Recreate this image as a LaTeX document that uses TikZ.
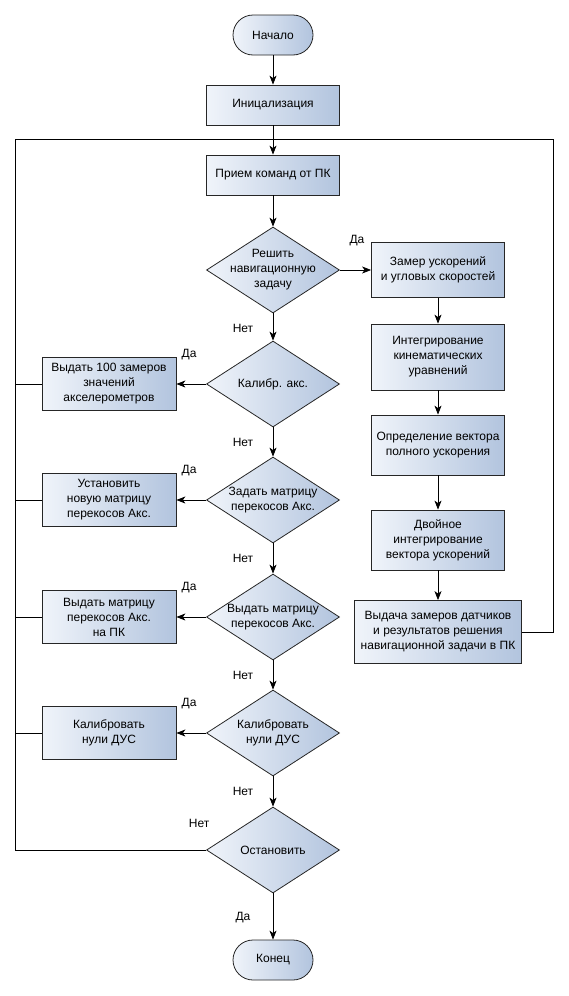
\documentclass[tikz,border=0pt]{standalone}
\usepackage{fontspec}
\setmainfont{Liberation Sans}
\usetikzlibrary{arrows.meta}
\usetikzlibrary{shapes.geometric}
\usetikzlibrary{calc}
\usepackage{xcolor}

\definecolor{boxl}{RGB}{240,244,250}
\definecolor{boxr}{RGB}{178,196,222}

\tikzset{
  txt/.style={font=\fontsize{12}{15}\selectfont},
  base/.style={txt, draw=black!85, line width=0.8pt, left color=boxl, right color=boxr, align=center},
  term/.style={base, rectangle, rounded corners=20pt, minimum width=80pt, minimum height=40pt},
  proc/.style={base, rectangle, minimum width=133pt, inner sep=0pt},
  decision/.style={base, diamond, minimum width=133pt, minimum height=86pt, inner sep=0pt},
  dtext/.style={txt, align=center},
  lbl/.style={txt},
  line/.style={line width=0.8pt},
  arr/.style={line, -{Stealth[length=9pt,width=7pt,inset=2.5pt]}}
}

\begin{document}
\begin{tikzpicture}[x=1pt,y=-1pt]

        \useasboundingbox (0,0) rectangle (569,996);

        % Main column
        \node[term] (start) at (273,35) {Начало};
        \node[proc, minimum height=40pt] (init) at (273,105) {Иницализация};
        \node[proc, minimum height=40pt] (recv) at (273,175) {Прием команд от ПК};
        \node[decision] (d1) at (273,270) {};
        \node[dtext] (d1t) at (d1) {Решить\\навигационную\\задачу};
        \node[decision] (cal) at (273,384) {};
        \node[dtext] (calt) at (cal) {Калибр. акс.};
        \node[decision] (mtx) at (273,500) {};
        \node[dtext] (mtxt) at (mtx) {Задать матрицу\\перекосов Акс.};
        \node[decision] (outm) at (273,617) {};
        \node[dtext] (outmt) at (outm) {Выдать матрицу\\перекосов Акс.};
        \node[decision] (dus) at (273,733) {};
        \node[dtext] (dust) at (dus) {Калибровать\\нули ДУС};
        \node[decision] (stop) at (273,850) {};
        \node[dtext] (stopt) at (stop) {Остановить};
        \node[term] (fin) at (273,960) {Конец};

        % Navigation branch
        \node[proc, minimum height=55pt] (meas) at (438,270) {Замер ускорений\\и угловых скоростей};
        \node[proc, minimum height=66pt] (integ) at (438,357) {Интегрирование\\кинематических\\уравнений};
        \node[proc, minimum height=60pt] (accel) at (438,445) {Определение вектора\\полного ускорения};
        \node[proc, minimum height=60pt] (dbl) at (438,540) {Двойное\\интегрирование\\вектора ускорений};
        \node[proc, minimum width=167pt, minimum height=63pt] (out) at (438,632) {Выдача замеров датчиков\\и результатов решения\\навигационной задачи в ПК};

        % Left branch
        \node[proc, minimum width=134pt, minimum height=53pt] (calbox) at (109,384) {Выдать 100 замеров\\значений\\акселерометров};
        \node[proc, minimum width=134pt, minimum height=53pt] (mtxbox) at (109,500) {Установить\\новую матрицу\\перекосов Акс.};
        \node[proc, minimum width=134pt, minimum height=53pt] (outmbox) at (109,617) {Выдать матрицу\\перекосов Акс.\\на ПК};
        \node[proc, minimum width=134pt, minimum height=53pt] (dusbox) at (109,733) {Калибровать\\нули ДУС};

        % Loop corners
        \coordinate (loopL) at (15,139);
        \coordinate (loopR) at (553,139);

        % Connectors
        \draw[arr] (start) -- (init);
        \draw[arr] (init) -- (recv);
        \draw[arr] (recv) -- (d1);
        \draw[arr] (d1.east) -- (meas.west);
        \node[lbl] (d1yes) at ($(d1.east)+(17,-29)$) {Да};
        \draw[arr] (meas) -- (integ);
        \draw[arr] (integ) -- (accel);
        \draw[arr] (accel) -- (dbl);
        \draw[arr] (dbl) -- (out);
        \draw[line] (out.east) -| (loopR) -- (loopL) |- (stop.west);
        \node[lbl] (stopno) at ($(stop.west)+(-7,-27)$) {Нет};

        \foreach \a/\b in {d1/cal, cal/mtx, mtx/outm, outm/dus, dus/stop}
        {
          \draw[arr] (\a.south) -- (\b.north);
          \node[lbl] (\a-no) at ($(\a.south)+(-30,15)$) {Нет};
        }

        \foreach \d/\b in {cal/calbox, mtx/mtxbox, outm/outmbox, dus/dusbox}
        {
          \draw[arr] (\d.west) -- (\b.east);
          \draw[line] (\b.west) -- (\b.west -| loopL);
          \node[lbl] (\d-yes) at ($(\d.west)+(-17,-29)$) {Да};
        }

        \draw[arr] (stop.south) -- (fin.north);
        \node[lbl] (stopyes) at ($(stop.south)+(-30,24)$) {Да};
    \end{tikzpicture}
\end{document}
